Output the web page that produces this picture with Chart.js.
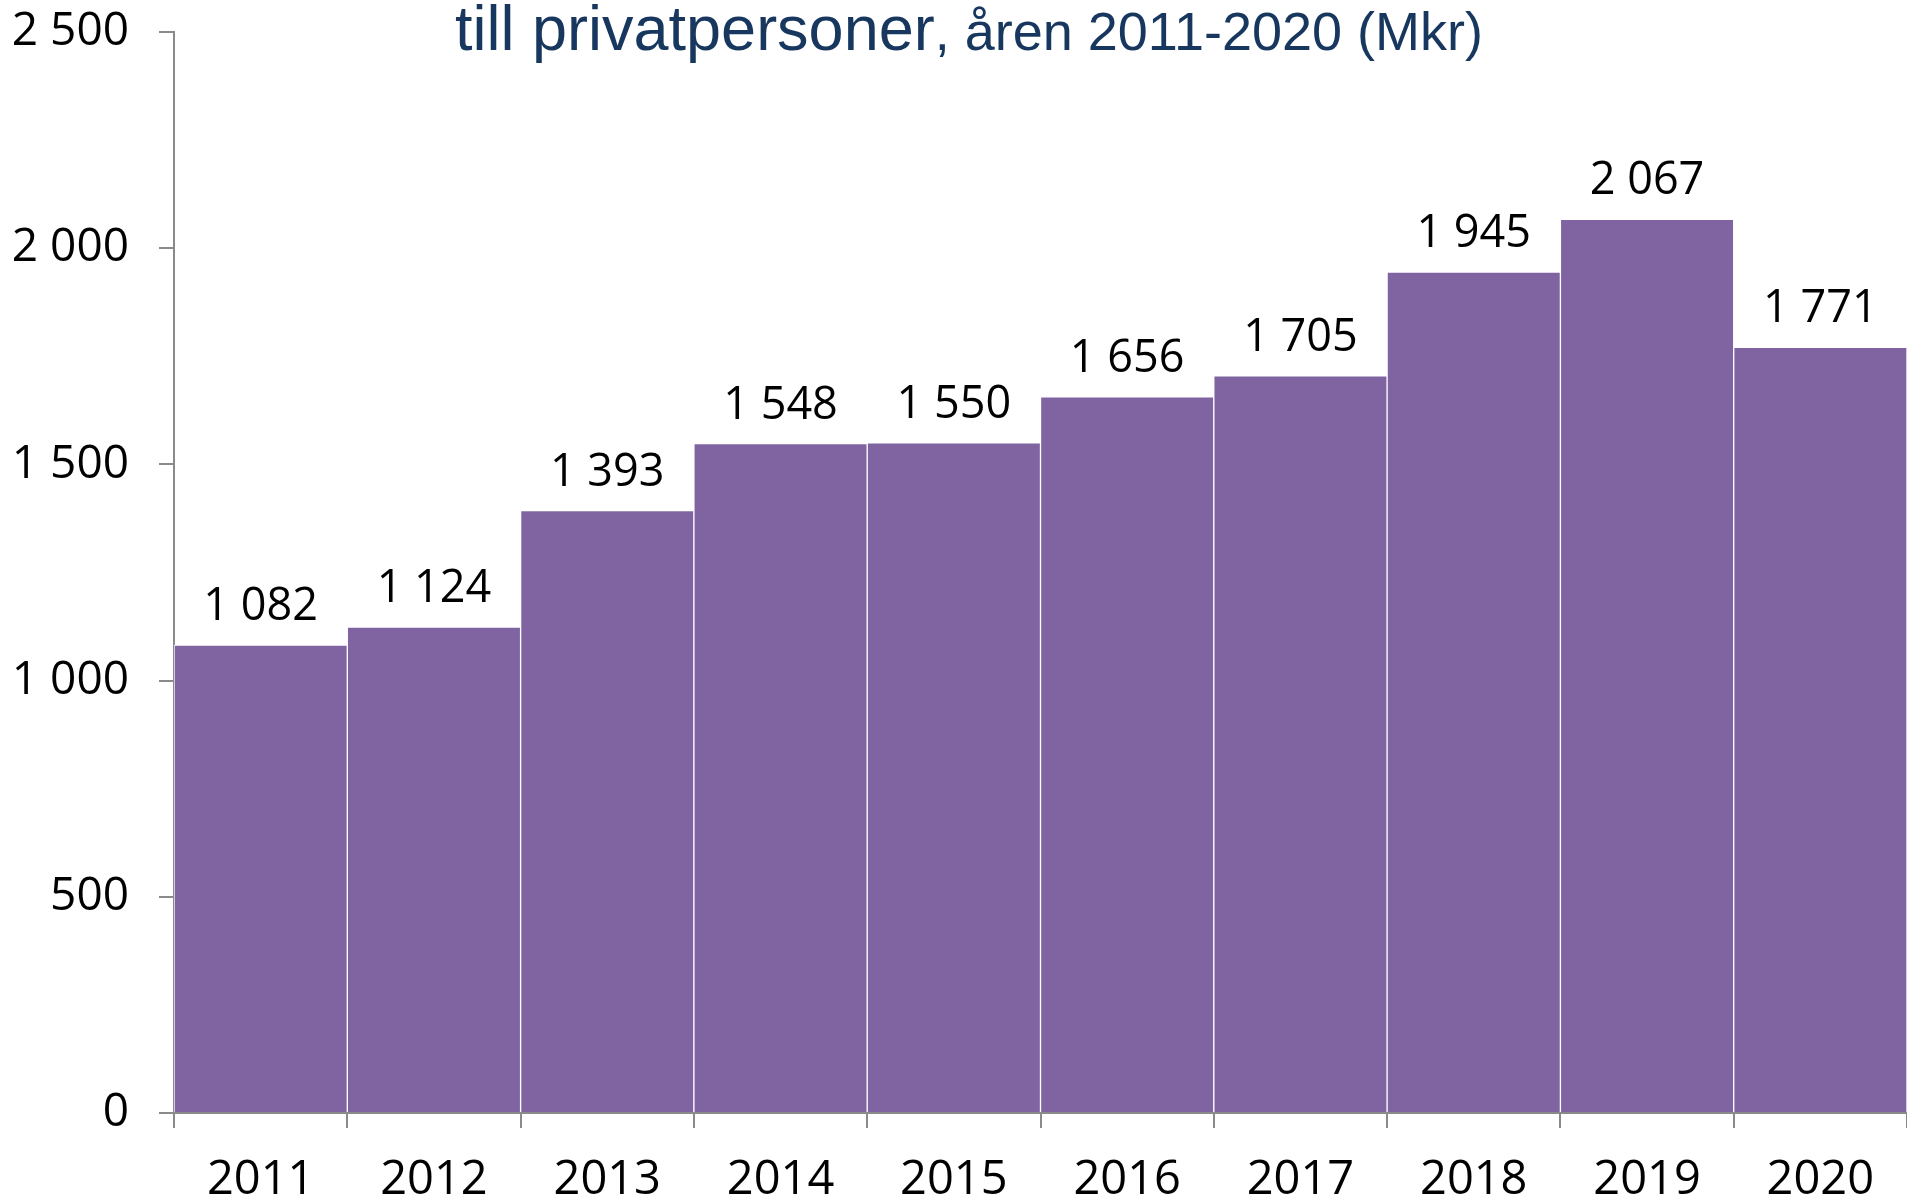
<!DOCTYPE html>
<html>
<head>
<meta charset="utf-8">
<script src="https://cdn.jsdelivr.net/npm/chart.js@4"></script>
<style>
    body { margin: 0; background: #fff; }
    #wrap { position: relative; width: 1907px; height: 1199px; overflow: hidden; }
    #title {
        position: absolute; left: 455px; top: -3px; white-space: nowrap;
        font-family: "Liberation Sans", Arial, sans-serif; color: #17375E;
        line-height: 1; font-size: 63px;
    }
    #title small { font-size: 54px; }
</style>
</head>
<body>
<div id="wrap">
    <canvas id="chartPrivat" width="1907" height="1199"></canvas>
    <div id="title">till privatpersoner<small>, åren 2011-2020 (Mkr)</small></div>
</div>
<script>
let years = ["2011", "2012", "2013", "2014", "2015", "2016", "2017", "2018", "2019", "2020"];
let amounts = [1082, 1124, 1393, 1548, 1550, 1656, 1705, 1945, 2067, 1771];
let yTicks = [0, 500, 1000, 1500, 2000, 2500];

function spaced(n) {
    return String(n).replace(/\B(?=(\d{3})+(?!\d))/g, " ");
}

// draws the value above each bar
const valueLabels = {
    id: "valueLabels",
    afterDatasetsDraw(chart) {
        const ctx = chart.ctx;
        ctx.save();
        ctx.font = "45px 'Open Sans'";
        ctx.fillStyle = "#000";
        ctx.textAlign = "center";
        ctx.textBaseline = "alphabetic";
        chart.getDatasetMeta(0).data.forEach((bar, i) => {
            ctx.fillText(spaced(amounts[i]), bar.x, bar.y - 25);
        });
        ctx.restore();
    }
};

new Chart("chartPrivat", {
    type: "bar",
    data: {
        labels: years,
        datasets: [{
            data: amounts,
            backgroundColor: "#8064A2",
            borderColor: "#ffffff",
            borderWidth: 1,
            borderSkipped: "bottom",
            barPercentage: 1,
            categoryPercentage: 1
        }]
    },
    options: {
        responsive: false,
        animation: false,
        layout: { padding: { top: 32, right: 0, left: 0, bottom: 0 } },
        plugins: {
            legend: { display: false },
            title: { display: false },
            tooltip: { enabled: false }
        },
        scales: {
            x: {
                afterFit: s => { s.height = 86; s.paddingRight = 0; s.paddingLeft = 0; },
                grid: { display: true, drawOnChartArea: false, color: "#8a8a8a", lineWidth: 2, tickLength: 15, offset: true },
                border: { display: true, color: "#8a8a8a", width: 2 },
                ticks: { color: "#000", font: { family: "Open Sans", size: 47 }, padding: 24, maxRotation: 0 }
            },
            y: {
                min: 0,
                max: 2500,
                afterFit: s => { s.width = 174; s.paddingTop = 0; s.paddingBottom = 0; },
                afterBuildTicks: s => { s.ticks = yTicks.map(v => ({ value: v })); },
                grid: { display: true, drawOnChartArea: false, color: "#8a8a8a", lineWidth: 2, tickLength: 15 },
                border: { display: true, color: "#8a8a8a", width: 2 },
                ticks: { color: "#000", font: { family: "Open Sans", size: 46 }, padding: 30, callback: v => spaced(v) }
            }
        }
    },
    plugins: [valueLabels]
});
</script>
</body>
</html>
